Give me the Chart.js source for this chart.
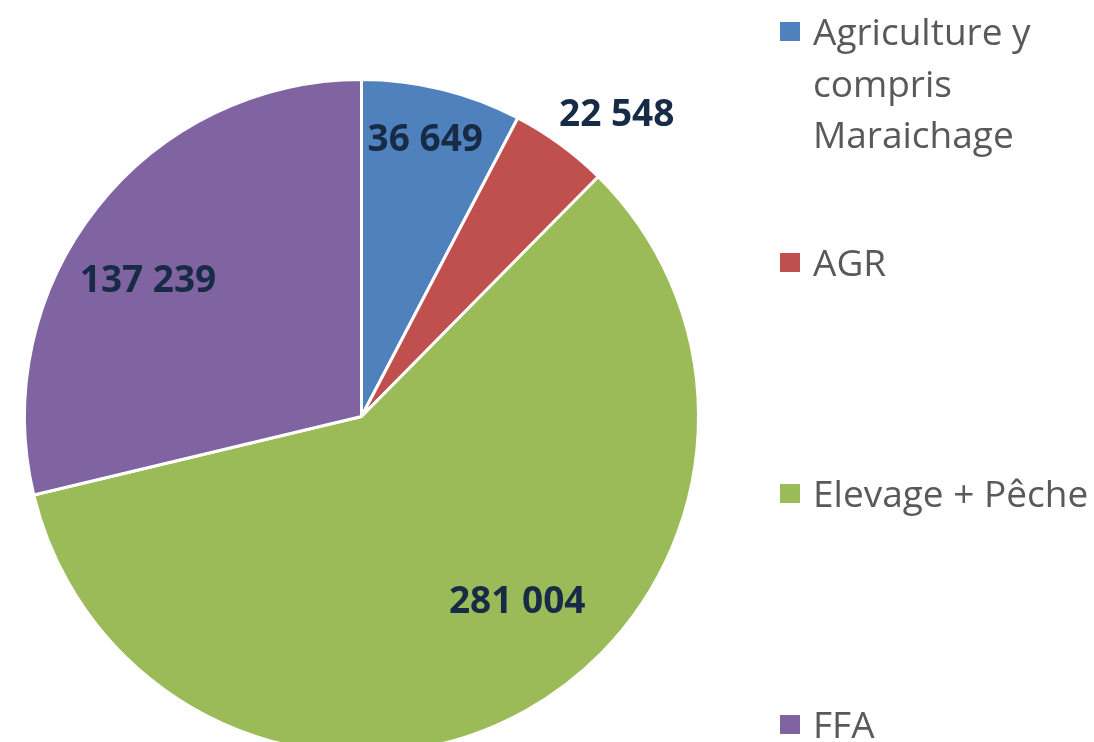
<!DOCTYPE html>
<html>
<head>
<meta charset="utf-8">
<script src="https://cdn.jsdelivr.net/npm/chart.js@4.4.0/dist/chart.umd.min.js"></script>
<style>
  html, body { margin: 0; padding: 0; background: #fff; }
  #wrap { width: 1094px; height: 742px; overflow: hidden; }
</style>
</head>
<body>
<div id="wrap"><canvas id="pie" width="1094" height="800"></canvas></div>
<script>
const categories = ['Agriculture y compris Maraichage', 'AGR', 'Elevage + Pêche', 'FFA']
const legendLines = [['Agriculture y', 'compris', 'Maraichage'], ['AGR'], ['Elevage + Pêche'], ['FFA']]
const values = [36649, 22548, 281004, 137239]
const colors = ['#4F81BD', '#C0504D', '#9BBB59', '#8064A2']

// label placement per slice: radius fraction and angle nudge (deg)
const labelPlace = [{ r: 0.84, da: -0.8 }, { r: 1.17, da: 4.2 }, { r: 0.72, da: -10.5 }, { r: 0.75, da: -5.9 }]

let fmt = v => String(v).replace(/\B(?=(\d{3})+(?!\d))/g, ' ')

const valueLabels = {
  id: 'valueLabels',
  afterDatasetsDraw(chart) {
    let ctx = chart.ctx
    let arcs = chart.getDatasetMeta(0).data
    ctx.save()
    ctx.font = 'bold 37px "Open Sans"'
    ctx.fillStyle = '#172B46'
    ctx.textAlign = 'center'
    ctx.textBaseline = 'middle'
    arcs.forEach((arc, i) => {
      let p = labelPlace[i]
      let mid = (arc.startAngle + arc.endAngle) / 2 + p.da * Math.PI / 180
      let rr = arc.outerRadius * p.r
      ctx.fillText(fmt(values[i]), arc.x + Math.cos(mid) * rr, arc.y + Math.sin(mid) * rr)
    })
    ctx.restore()
  }
}

const sideLegend = {
  id: 'sideLegend',
  afterDraw(chart) {
    let ctx = chart.ctx
    ctx.save()
    ctx.font = '37px "Open Sans"'
    ctx.textBaseline = 'alphabetic'
    legendLines.forEach((lines, i) => {
      let base = 45 + i * 231
      ctx.fillStyle = colors[i]
      ctx.fillRect(780, base - 23, 20, 19)
      ctx.fillStyle = '#595959'
      lines.forEach((t, j) => ctx.fillText(t, 813, base + j * 51.5))
    })
    ctx.restore()
  }
}

new Chart(document.querySelector('#pie'), {
  type: 'pie',
  data: {
    labels: categories,
    datasets: [{
      data: values,
      backgroundColor: colors,
      borderColor: '#ffffff',
      borderWidth: 3
    }]
  },
  options: {
    responsive: false,
    animation: false,
    layout: { padding: { left: 23, top: 78, right: 394, bottom: 45 } },
    plugins: {
      legend: { display: false },
      tooltip: { enabled: false }
    }
  },
  plugins: [valueLabels, sideLegend]
})
</script>
</body>
</html>
